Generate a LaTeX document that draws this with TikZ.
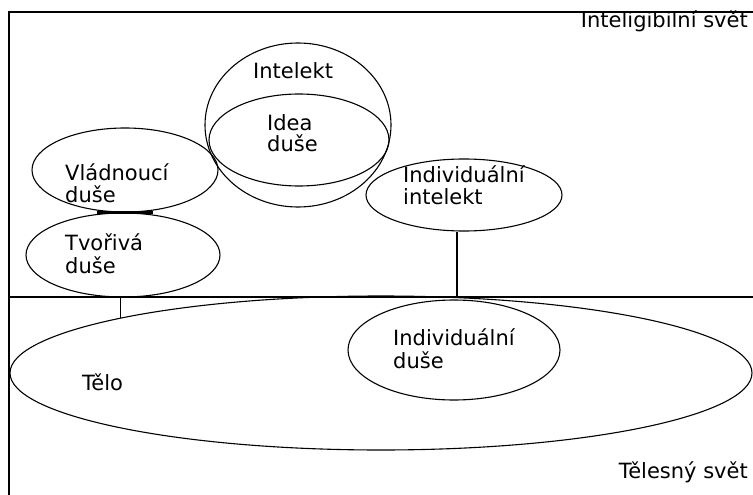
\documentclass[tikz,border=0pt]{standalone}
\usepackage{fontspec}
\setmainfont{DejaVu Sans}
\usetikzlibrary{shapes.geometric}
\begin{document}
\begin{tikzpicture}[x=1pt,y=-1pt,
  oval/.style={draw, ellipse, inner sep=0pt, line width=1.1pt},
  lbl/.style={anchor=base west, inner sep=0pt, font=\fontsize{21}{22}\selectfont},
  lblr/.style={anchor=base east, inner sep=0pt, font=\fontsize{21}{22}\selectfont},
  conn/.style={line width=1.1pt},
  tangent/.style={line width=3pt}]
\useasboundingbox (0,0) rectangle (753,495);
% frame
\coordinate (fbl) at (9,495);
\coordinate (ftl) at (9,12);
\coordinate (ftr) at (753,12);
\coordinate (dl) at (9,297);
\coordinate (dr) at (753,297);
\draw[conn] (fbl) -- (ftl) -- (ftr);
\draw[conn] (dl) -- (dr);
% ellipses
\node[oval, minimum width=186pt, minimum height=164pt] (intelekt) at (298,125) {};
\node[oval, minimum width=180pt, minimum height=92pt] (idea) at (299,140) {};
\node[oval, minimum width=186pt, minimum height=84pt] (vlad) at (125,170) {};
\node[oval, minimum width=194pt, minimum height=84pt] (tvor) at (123,255) {};
\node[oval, minimum width=196pt, minimum height=72pt] (indint) at (464,195) {};
\node[oval, minimum width=742pt, minimum height=154pt] (telo) at (381,373) {};
\node[oval, minimum width=212pt, minimum height=100pt] (indduse) at (454,350) {};
% connectors
\draw[tangent] ([xshift=-28pt]vlad.south) -- ([xshift=28pt]vlad.south);
\coordinate (d1) at (457,297);
\draw[conn] (indint.south -| d1) -- (d1);
\draw[conn] (tvor.south -| telo.168.4) -- (telo.168.4);
% labels
\node[lbl] (tIntelekt) at (253,79) {Intelekt};
\node[lbl] (tIdea1) at (267,130) {Idea};
\node[lbl] (tIdea2) at (267,151) {duše};
\node[lbl] (tVlad1) at (65,180) {Vládnoucí};
\node[lbl] (tVlad2) at (65,202) {duše};
\node[lbl] (tTvor1) at (65,250) {Tvořivá};
\node[lbl] (tTvor2) at (65,273) {duše};
\node[lbl] (tII1) at (403,182) {Individuální};
\node[lbl] (tII2) at (403,204) {intelekt};
\node[lbl] (tID1) at (393,345) {Individuální};
\node[lbl] (tID2) at (393,368) {duše};
\node[lbl] (tTelo) at (82,390) {Tělo};
\node[lblr] (tIntSvet) at (748,28) {Inteligibilní svět};
\node[lblr] (tTelSvet) at (748,478) {Tělesný svět};
\end{tikzpicture}
\end{document}
